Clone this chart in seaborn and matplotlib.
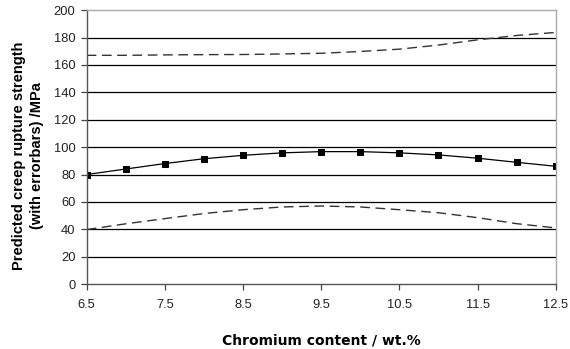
import numpy as np
import pandas as pd
import seaborn as sns
import matplotlib.pyplot as plt

# chromium content (wt.%)
chromium = [6.5, 7.0, 7.5, 8.0, 8.5, 9.0, 9.5, 10.0, 10.5, 11.0, 11.5, 12.0, 12.5]
# predicted creep rupture strength (MPa) and error bounds
strength = [80, 84, 88, 91.5, 94, 95.8, 96.7, 96.7, 95.8, 94.3, 91.9, 88.9, 86]
upper = [167, 167, 167.3, 167.5, 167.6, 168, 168.5, 169.8, 171.5, 174.5, 178.3, 181.5, 183.7]
lower = [39.8, 44, 47.8, 51.5, 54.3, 56.3, 57, 56.3, 54.3, 52.1, 48.5, 44.1, 41]

df = pd.DataFrame({"cr": chromium, "mid": strength, "hi": upper, "lo": lower})

sns.set_style("white")
plt.rcParams["font.family"] = ["Liberation Sans", "DejaVu Sans"]

fig = plt.figure(figsize=(5.7, 3.49), dpi=100)
ax = fig.add_axes([0.152, 0.186, 0.823, 0.785])

for y in range(20, 200, 20):
    ax.axhline(y, color="black", lw=0.9, zorder=0)

sns.lineplot(data=df, x="cr", y="hi", ax=ax, color="#333333", lw=1.0,
             linestyle=(0, (7, 4)))
sns.lineplot(data=df, x="cr", y="lo", ax=ax, color="#333333", lw=1.0,
             linestyle=(0, (7, 4)))
sns.lineplot(data=df, x="cr", y="mid", ax=ax, color="black", lw=0.9,
             marker="s", markersize=5, markeredgecolor="black")

ax.set_xlim(6.5, 12.5)
ax.set_ylim(0, 200)
ax.set_xticks([6.5, 7.5, 8.5, 9.5, 10.5, 11.5, 12.5])
ax.set_xticklabels(["6.5", "7.5", "8.5", "9.5", "10.5", "11.5", "12.5"])
ax.set_yticks(range(0, 201, 20))
ax.tick_params(axis="both", direction="out", length=4, width=0.9,
               color="#444444", labelsize=9.3, bottom=True, left=True,
               labelcolor="#222222")
ax.tick_params(axis="y", pad=4)
ax.tick_params(axis="x", pad=7)

for side in ["left", "bottom"]:
    ax.spines[side].set_color("#555555")
    ax.spines[side].set_linewidth(1.0)
for side in ["top", "right"]:
    ax.spines[side].set_visible(True)
    ax.spines[side].set_color("#aaaaaa")
    ax.spines[side].set_linewidth(1.0)

ax.set_xlabel("Chromium content / wt.%", fontsize=10, fontweight="bold",
              family="DejaVu Sans", color="black")
ax.set_ylabel("Predicted creep rupture strength\n(with errorbars) /MPa",
              fontsize=10.5, fontweight="bold", color="black",
              linespacing=1.35)
ax.xaxis.set_label_coords(0.5, -0.179)
ax.yaxis.set_label_coords(-0.091, 0.47)

plt.savefig("out.png", dpi=100)
